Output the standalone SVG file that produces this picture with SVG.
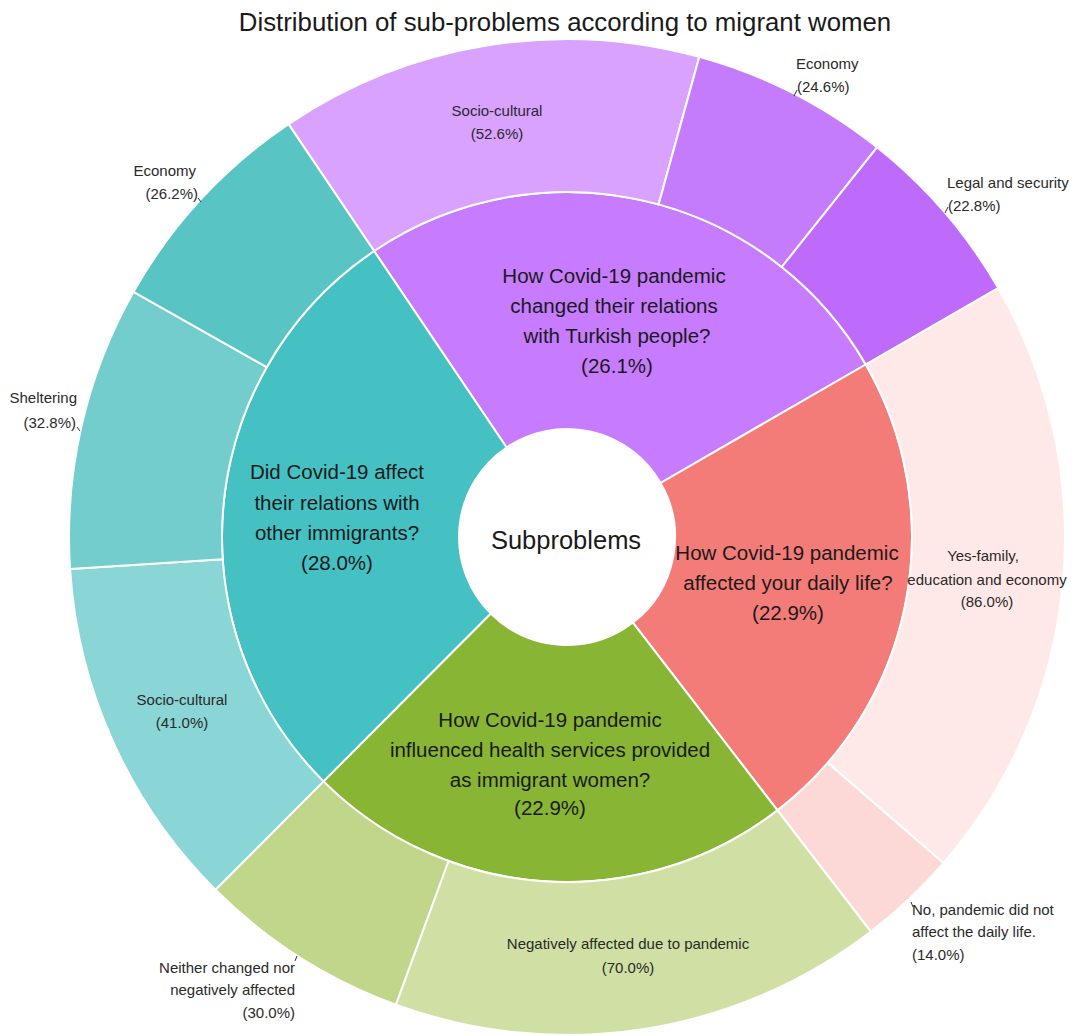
<svg xmlns="http://www.w3.org/2000/svg" width="1083" height="1036" viewBox="0 0 1083 1036">
<style>
  text { font-family: "Liberation Sans", Arial, sans-serif; fill: #1a1a1a; }
  .title { font-size: 25.8px; text-anchor: middle; }
  .center { font-size: 25.5px; text-anchor: middle; }
  .inner { font-size: 20.5px; text-anchor: middle; }
  .outer { font-size: 15px; fill: #2a2a2a; }
  .mid { text-anchor: middle; }
  .end { text-anchor: end; }
  .seg { stroke: #ffffff; stroke-width: 2; stroke-linejoin: round; }
  .tick { stroke: #333333; stroke-width: 1; fill: none; }
</style>
<rect width="1083" height="1036" fill="#ffffff"/>
<text class="title" x="565" y="31">Distribution of sub-problems according to migrant women</text>

<g id="node-turkish">
  <path class="seg" fill="#C77CFF" d="M506.61,447.47 L374.08,250.99 A345,345 0 0 1 865.77,364.5 L660.53,483 A108,108 0 0 0 506.61,447.47 Z"/>
  <text class="inner" x="614" y="283">How Covid-19 pandemic</text>
  <text class="inner" x="614" y="313">changed their relations</text>
  <text class="inner" x="617" y="343">with Turkish people?</text>
  <text class="inner" x="617" y="373">(26.1%)</text>
</g>
<g id="node-daily">
  <path class="seg" fill="#F47C78" d="M660.53,483 L865.77,364.5 A345,345 0 0 1 777.48,810.34 L632.89,622.57 A108,108 0 0 0 660.53,483 Z"/>
  <text class="inner" x="787" y="560">How Covid-19 pandemic</text>
  <text class="inner" x="788" y="590">affected your daily life?</text>
  <text class="inner" x="788" y="620">(22.9%)</text>
</g>
<g id="node-health">
  <path class="seg" fill="#89B535" d="M632.89,622.57 L777.48,810.34 A345,345 0 0 1 323.46,781.36 L490.76,613.5 A108,108 0 0 0 632.89,622.57 Z"/>
  <text class="inner" x="550" y="727">How Covid-19 pandemic</text>
  <text class="inner" x="550" y="757">influenced health services provided</text>
  <text class="inner" x="550" y="787">as immigrant women?</text>
  <text class="inner" x="550" y="815">(22.9%)</text>
</g>
<g id="node-immigrants">
  <path class="seg" fill="#45C1C4" d="M490.76,613.5 L323.46,781.36 A345,345 0 0 1 374.08,250.99 L506.61,447.47 A108,108 0 0 0 490.76,613.5 Z"/>
  <text class="inner" x="337" y="479">Did Covid-19 affect</text>
  <text class="inner" x="337" y="510">their relations with</text>
  <text class="inner" x="337" y="540">other immigrants?</text>
  <text class="inner" x="337" y="570">(28.0%)</text>
</g>

<g id="node-center">
  <circle cx="567" cy="537" r="107" fill="#ffffff"/>
  <text class="center" x="566" y="549">Subproblems</text>
</g>

<g id="node-turkish-socio">
  <path class="seg" fill="#D8A2FE" d="M374.08,250.99 L288.52,124.16 A498,498 0 0 1 699.27,56.88 L658.63,204.39 A345,345 0 0 0 374.08,250.99 Z"/>
  <text class="outer mid" x="497" y="116">Socio-cultural</text>
  <text class="outer mid" x="497" y="139">(52.6%)</text>
</g>
<g id="node-turkish-economy">
  <path class="seg" fill="#C57CFC" d="M658.63,204.39 L699.27,56.88 A498,498 0 0 1 877.01,147.27 L781.76,267 A345,345 0 0 0 658.63,204.39 Z"/>
  <text class="outer" x="796" y="69">Economy</text>
  <text class="outer" x="797" y="92">(24.6%)</text>
</g>
<g id="node-turkish-legal">
  <path class="seg" fill="#BE6BFB" d="M781.76,267 L877.01,147.27 A498,498 0 0 1 998.27,288 L865.77,364.5 A345,345 0 0 0 781.76,267 Z"/>
  <text class="outer" x="947" y="188">Legal and security</text>
  <text class="outer" x="948" y="211">(22.8%)</text>
</g>
<g id="node-daily-yes">
  <path class="seg" fill="#FEE9E8" d="M865.77,364.5 L998.27,288 A498,498 0 0 1 943.44,863.04 L827.79,762.87 A345,345 0 0 0 865.77,364.5 Z"/>
  <text class="outer mid" x="983" y="561">Yes-family,</text>
  <text class="outer mid" x="987" y="585">education and economy</text>
  <text class="outer mid" x="987" y="607">(86.0%)</text>
</g>
<g id="node-daily-no">
  <path class="seg" fill="#FCD8D6" d="M827.79,762.87 L943.44,863.04 A498,498 0 0 1 870.83,931.57 L777.48,810.34 A345,345 0 0 0 827.79,762.87 Z"/>
  <text class="outer" x="912" y="915">No, pandemic did not</text>
  <text class="outer" x="912" y="937">affect the daily life.</text>
  <text class="outer" x="912" y="960">(14.0%)</text>
</g>
<g id="node-health-negative">
  <path class="seg" fill="#D0E0A4" d="M777.48,810.34 L870.83,931.57 A498,498 0 0 1 395.84,1004.67 L448.42,860.99 A345,345 0 0 0 777.48,810.34 Z"/>
  <text class="outer mid" x="628" y="949">Negatively affected due to pandemic</text>
  <text class="outer mid" x="628" y="973">(70.0%)</text>
</g>
<g id="node-health-neither">
  <path class="seg" fill="#C0D68B" d="M448.42,860.99 L395.84,1004.67 A498,498 0 0 1 215.46,889.73 L323.46,781.36 A345,345 0 0 0 448.42,860.99 Z"/>
  <text class="outer end" x="295" y="973">Neither changed nor</text>
  <text class="outer end" x="295" y="995">negatively affected</text>
  <text class="outer end" x="295" y="1018">(30.0%)</text>
</g>
<g id="node-immigrants-socio">
  <path class="seg" fill="#8AD5D5" d="M323.46,781.36 L215.46,889.73 A498,498 0 0 1 70.05,569.12 L222.72,559.25 A345,345 0 0 0 323.46,781.36 Z"/>
  <text class="outer mid" x="182" y="705">Socio-cultural</text>
  <text class="outer mid" x="182" y="728">(41.0%)</text>
</g>
<g id="node-immigrants-sheltering">
  <path class="seg" fill="#72CDCC" d="M222.72,559.25 L70.05,569.12 A498,498 0 0 1 133.54,291.78 L266.71,367.12 A345,345 0 0 0 222.72,559.25 Z"/>
  <text class="outer end" x="77" y="403">Sheltering</text>
  <text class="outer end" x="76" y="428">(32.8%)</text>
</g>
<g id="node-immigrants-economy">
  <path class="seg" fill="#58C4C4" d="M266.71,367.12 L133.54,291.78 A498,498 0 0 1 288.52,124.16 L374.08,250.99 A345,345 0 0 0 266.71,367.12 Z"/>
  <text class="outer end" x="196" y="176">Economy</text>
  <text class="outer end" x="198" y="199">(26.2%)</text>
</g>

<g id="connectors">
  <path class="tick" d="M794,96 L797,90"/>
  <path class="tick" d="M945,213 L948,207"/>
  <path class="tick" d="M198,198 L201,202"/>
  <path class="tick" d="M77,427 L80,431"/>
  <path class="tick" d="M295,961 L297,956"/>
  <path class="tick" d="M911,902 L913,907"/>
</g>
</svg>
